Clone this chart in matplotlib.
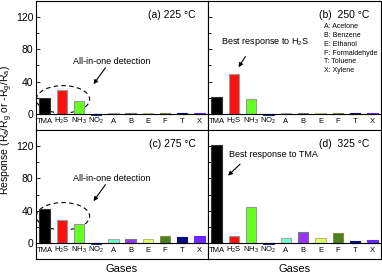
import numpy as np
import matplotlib.pyplot as plt
from matplotlib.patches import Ellipse

plt.rcParams['font.family'] = ['Liberation Sans', 'DejaVu Sans']
plt.rcParams['mathtext.fontset'] = 'custom'
plt.rcParams['mathtext.rm'] = 'Liberation Sans'
plt.rcParams['mathtext.it'] = 'Liberation Sans'

# Gases and responses at each temperature
gases = ['TMA', 'H$_2$S', 'NH$_3$', 'NO$_2$', 'A', 'B', 'E', 'F', 'T', 'X']
resp_225 = [20, 30, 16, -2, 0.6, 0.6, 0.6, 0.6, 0.6, 0.6]
resp_250 = [21, 49, 18, -1.5, 0.6, 0.8, 0.6, 1.2, 0.8, 0.8]
resp_275 = [42, 28, 24, -2, 5, 5, 5, 8, 7, 8]
resp_325 = [122, 8, 44.5, -1, 6, 13, 5.5, 12, 2, 3.5]
panel_labels = ['(a) 225 \u00b0C', '(b)  250 \u00b0C', '(c) 275 \u00b0C', '(d)  325 \u00b0C']
legend_lines = ['A: Acetone', 'B: Benzene', 'E: Ethanol', 'F: Formaldehyde',
                'T: Toluene', 'X: Xylene']

colors = ['#000000', '#ff1010', '#66ff22', '#1a2a8a', '#66ffcc',
          '#9933ff', '#ddff66', '#4f7f1f', '#0a0a80', '#6a2aff']
edges = ['#333333', '#999999', '#999999', '#1a2a8a', '#aaaaaa',
         '#777777', '#bbbb77', '#888844', '#0a0a80', '#6a2aff']

fig = plt.figure(figsize=(3.82, 2.75), dpi=100)
x0, xm, x1 = 36/382, 208/382, 381/382
yt, ym, yb = 1 - 1/275, 1 - 130/275, 1 - 259/275
pos = [(x0, ym, xm - x0, yt - ym), (xm, ym, x1 - xm, yt - ym),
       (x0, yb, xm - x0, ym - yb), (xm, yb, x1 - xm, ym - yb)]
data = [resp_225, resp_250, resp_275, resp_325]

x = np.arange(len(gases))
axes = []
for i, (p, vals) in enumerate(zip(pos, data)):
    ax = fig.add_axes(p)
    axes.append(ax)
    ax.bar(x, vals, 0.6, color=colors, edgecolor=edges, linewidth=0.8, zorder=2)
    ax.axhline(0, color='black', lw=0.8, zorder=3)
    ax.set_xlim(-0.5, 9.5)
    ax.set_ylim(-20, 140)
    ax.set_xticks([])
    ax.set_yticks([0, 40, 80, 120])
    ax.set_yticks([20, 60, 100], minor=True)
    ax.tick_params(axis='y', which='both', direction='in', length=3, width=0.6,
                   labelsize=7.5, pad=2)
    ax.tick_params(axis='y', which='minor', length=1.8)
    if i % 2 == 1:
        ax.set_yticklabels([])
    for s in ax.spines.values():
        s.set_linewidth(0.8)
    for xi, g in zip(x, gases):
        ax.text(xi, -9, g, ha='center', va='center', fontsize=5.5)
    ax.text(0.93, 0.89, panel_labels[i], transform=ax.transAxes, ha='right',
            va='center', fontsize=7.5)

# annotations
for ax in (axes[0], axes[2]):
    cy = 18 if ax is axes[0] else 33
    ax.add_patch(Ellipse((1.07, cy), 3.1, 34, fill=False, ls=(0, (4, 3)),
                         lw=0.8, color='black', zorder=1))
    ax.text(3.9, cy + 47, 'All-in-one detection', ha='center', va='center',
            fontsize=6.5)
    ax.annotate('', xy=(2.75, cy + 16), xytext=(3.63, cy + 42),
                arrowprops=dict(arrowstyle='-|>', color='black', lw=0.8,
                                mutation_scale=6))

axes[1].text(2.8, 89, 'Best response to H$_2$S', ha='center', va='center',
             fontsize=6.5)
axes[1].annotate('', xy=(1.18, 55), xytext=(1.75, 74),
                 arrowprops=dict(arrowstyle='-|>', color='black', lw=0.8,
                                 mutation_scale=6))
axes[3].text(3.3, 109, 'Best response to TMA', ha='center', va='center',
             fontsize=6.5)
axes[3].annotate('', xy=(0.54, 81), xytext=(1.47, 100),
                 arrowprops=dict(arrowstyle='-|>', color='black', lw=0.8,
                                 mutation_scale=6))

for k, line in enumerate(legend_lines):
    axes[1].text(0.67, 0.80 - k * 0.068, line, transform=axes[1].transAxes,
                 ha='left', va='center', fontsize=5)

fig.text(7/382, 1 - 130/275, 'Response (R$_a$/R$_g$ or -R$_g$/R$_a$)',
         rotation=90, ha='center', va='center', fontsize=7.5)
for ax in (axes[2], axes[3]):
    b = ax.get_position()
    fig.text((b.x0 + b.x1) / 2, 1 - 269/275, 'Gases', ha='center',
             va='center', fontsize=8)

fig.savefig('out.png', dpi=100)
